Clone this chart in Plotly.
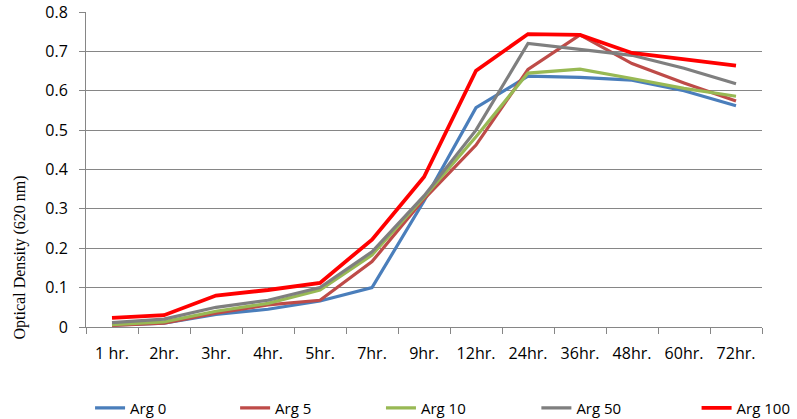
import plotly.graph_objects as go

categories = ["1 hr.", "2hr.", "3hr.", "4hr.", "5hr.", "7hr.", "9hr.", "12hr.",
              "24hr.", "36hr.", "48hr.", "60hr.", "72hr."]

arg0 = [0.005, 0.010, 0.032, 0.045, 0.066, 0.100, 0.320, 0.557, 0.637, 0.634, 0.627, 0.600, 0.562]
arg5 = [0.004, 0.010, 0.035, 0.056, 0.068, 0.166, 0.325, 0.462, 0.654, 0.742, 0.669, 0.620, 0.574]
arg10 = [0.006, 0.013, 0.040, 0.060, 0.094, 0.183, 0.330, 0.483, 0.645, 0.655, 0.631, 0.606, 0.586]
arg50 = [0.011, 0.020, 0.050, 0.068, 0.100, 0.191, 0.333, 0.500, 0.720, 0.705, 0.690, 0.657, 0.618]
arg100 = [0.023, 0.030, 0.080, 0.094, 0.112, 0.222, 0.381, 0.651, 0.744, 0.742, 0.696, 0.679, 0.664]

series = [
    ("Arg 0", arg0, "#4a7ebb", 3.2),
    ("Arg 5", arg5, "#be4b48", 3.2),
    ("Arg 10", arg10, "#98b954", 3.2),
    ("Arg 50", arg50, "#7f7f7f", 3.2),
    ("Arg 100", arg100, "#ff0000", 3.8),
]
legend_x = [0.113, 0.295, 0.478, 0.673, 0.874]

W, H = 797, 419
fig = go.Figure()
legend_font = dict(family="Open Sans, Liberation Sans, sans-serif", size=15, color="#000000")
layout_legends = {}
for i, (name, vals, color, w) in enumerate(series):
    key = "legend" if i == 0 else f"legend{i+1}"
    fig.add_trace(go.Scatter(x=categories, y=vals, name=name, mode="lines",
                             line=dict(color=color, width=w), legend=key))
    layout_legends[key] = dict(orientation="h", xref="container", yref="container",
                               x=legend_x[i], xanchor="left", y=0.026, yanchor="middle",
                               font=legend_font, bgcolor="rgba(0,0,0,0)")

tick_font = dict(family="Open Sans, Liberation Sans, sans-serif", size=16, color="#000000")

fig.update_layout(
    width=W, height=H,
    margin=dict(l=86, r=35, t=12, b=92, autoexpand=False),
    plot_bgcolor="white", paper_bgcolor="white",
    showlegend=True,
    xaxis=dict(type="category", showline=True, linecolor="#868686", linewidth=1,
               ticks="outside", tickson="boundaries", ticklen=6, tickcolor="#868686",
               ticklabelstandoff=12,
               showgrid=False, tickfont=tick_font, range=[-0.5, 12.5]),
    yaxis=dict(range=[0, 0.8], dtick=0.1, tickformat=".1~f",
               showline=True, linecolor="#868686", linewidth=1,
               ticks="outside", ticklen=6, tickcolor="#868686",
               ticklabelstandoff=8,
               showgrid=True, gridcolor="#868686", gridwidth=1,
               zeroline=False, tickfont=tick_font),
    **layout_legends,
)

fig.add_annotation(text="Optical Density (620 nm)", xref="paper", yref="paper",
                   x=-0.098, y=0.22, textangle=-90, showarrow=False,
                   xanchor="center", yanchor="middle",
                   font=dict(family="Liberation Serif, Times New Roman, serif", size=16, color="#000000"))

fig.write_html("out.html", config={"displayModeBar": False},
               post_script="document.body.style.margin='0';")
